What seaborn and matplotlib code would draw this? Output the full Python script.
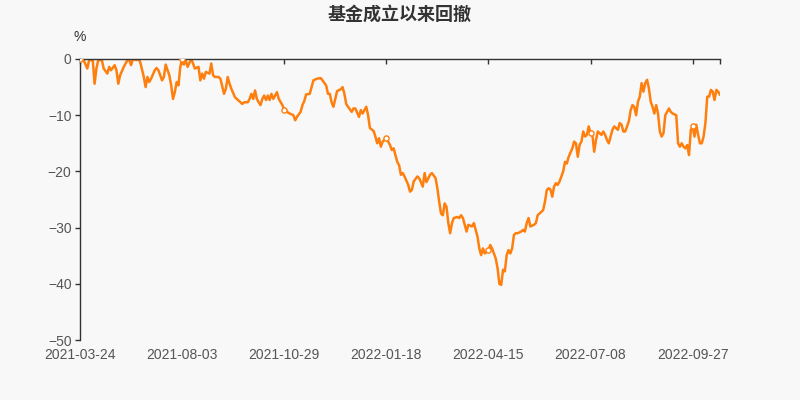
import matplotlib
matplotlib.use("Agg")
import matplotlib.pyplot as plt
import numpy as np
import pandas as pd
import seaborn as sns

# ---- data (trading-day index since inception, drawdown in %) ----
days = [0, 2, 4, 5, 7, 8, 9, 10, 12, 13, 15, 16, 17, 19, 20, 21, 22, 24, 26, 27,
        28, 29, 31, 32, 33, 35, 36, 37, 38, 39, 41, 42, 43, 45, 46, 47, 49, 50, 51, 52,
        53, 54, 55, 56, 57, 58, 59, 61, 62, 63, 65, 66, 67, 68, 69, 71, 72, 73, 74, 76,
        77, 79, 80, 81, 82, 83, 85, 86, 88, 89, 90, 92, 93, 94, 95, 96, 97, 98, 99, 100,
        101, 102, 103, 104, 105, 106, 107, 108, 109, 111, 112, 113, 115, 117, 118, 119, 121, 122, 123, 124,
        126, 127, 128, 130, 132, 133, 135, 136, 137, 138, 139, 140, 141, 143, 144, 145, 146, 147, 149, 150,
        151, 153, 154, 155, 157, 158, 159, 161, 162, 163, 164, 165, 166, 168, 170, 171, 172, 173, 174, 175,
        176, 177, 178, 180, 181, 182, 183, 185, 186, 188, 189, 190, 192, 193, 195, 196, 197, 198, 199, 200,
        201, 202, 203, 204, 205, 207, 208, 209, 210, 211, 212, 213, 215, 216, 217, 218, 219, 220, 221, 222,
        223, 224, 225, 226, 228, 229, 230, 231, 232, 233, 234, 235, 236, 237, 238, 239, 240, 242, 243, 244,
        245, 246, 247, 249, 250, 251, 253, 254, 255, 256, 257, 258, 259, 260, 261, 262, 263, 265, 266, 267,
        268, 270, 271, 272, 273, 274, 275, 276, 277, 278, 279, 280, 281, 282, 283, 284, 286, 287, 288, 289,
        290, 292, 293, 295, 296, 297, 298, 299, 301, 302, 303, 304, 305, 306, 307, 308, 309, 310, 311, 312,
        313, 314, 315, 316, 317, 318, 319, 320, 321, 323, 324, 325, 327, 328, 329, 330, 331, 332, 333, 334,
        335, 336, 337, 338, 339, 340, 341, 342, 343, 344, 345, 346, 347, 348, 349, 350, 351]

drawdown = [0.0, -0.2, -1.7, -0.2, -0.2, -4.4, -1.7, -0.2, -0.2, -1.7, -2.6, -1.4, -2.0, -1.1, -2.0, -4.4, -2.9, -1.4, -0.2, -0.2,
            -1.1, 0.0, -0.2, 0.0, -0.5, -3.2, -5.0, -3.2, -4.1, -3.5, -2.0, -1.6, -2.0, -3.8, -3.2, -1.0, -2.9, -4.7, -7.1, -5.9,
            -4.1, -4.7, -1.4, 0.0, -1.0, -0.2, -1.4, 0.0, -0.8, -1.7, -1.4, -3.8, -2.6, -3.5, -2.3, -2.6, -0.8, -2.9, -3.2, -3.2,
            -3.5, -6.2, -5.3, -3.2, -4.4, -5.3, -6.8, -7.1, -7.7, -8.0, -7.7, -7.7, -7.1, -6.2, -7.1, -5.6, -7.1, -7.7, -8.2, -7.1,
            -6.5, -7.3, -6.5, -7.3, -6.2, -7.1, -6.5, -5.9, -7.1, -8.2, -9.0, -9.3, -9.7, -10.0, -10.9, -10.3, -9.4, -8.2, -7.5, -6.3,
            -6.2, -5.0, -3.8, -3.5, -3.4, -3.8, -4.7, -6.2, -6.2, -7.7, -8.5, -7.1, -5.7, -5.4, -5.0, -6.2, -8.0, -8.5, -9.4, -8.8,
            -8.8, -10.3, -9.1, -9.7, -8.5, -10.0, -12.3, -12.8, -13.8, -15.0, -14.1, -15.6, -14.7, -14.1, -15.3, -16.2, -15.9, -17.1, -18.3, -18.9,
            -20.6, -20.3, -20.9, -22.4, -23.6, -23.3, -21.8, -20.9, -21.2, -22.7, -20.3, -21.9, -20.6, -20.3, -21.2, -23.0, -25.4, -27.5, -27.8, -25.7,
            -26.3, -29.2, -31.0, -29.2, -28.3, -28.1, -28.3, -27.8, -28.3, -29.5, -30.7, -29.5, -29.8, -29.2, -30.4, -31.6, -33.7, -34.9, -33.7, -34.6,
            -34.3, -34.0, -33.1, -33.7, -35.5, -37.2, -40.0, -40.2, -37.5, -37.8, -34.9, -34.0, -34.6, -33.7, -31.3, -31.0, -31.0, -30.7, -30.4, -30.7,
            -29.2, -28.3, -29.8, -29.5, -29.2, -27.8, -27.2, -26.9, -25.4, -23.3, -23.0, -23.2, -24.5, -22.7, -22.1, -22.4, -21.8, -20.0, -18.3, -18.6,
            -17.4, -15.9, -14.7, -15.0, -17.4, -15.3, -14.7, -12.9, -13.8, -13.5, -12.0, -13.1, -13.5, -16.5, -14.4, -12.9, -13.5, -12.9, -13.5, -14.4,
            -15.0, -12.6, -12.0, -12.6, -11.4, -11.7, -12.9, -12.9, -11.1, -9.1, -8.2, -8.5, -10.0, -7.6, -6.7, -4.3, -5.8, -4.3, -3.7, -5.2,
            -7.6, -8.5, -9.7, -8.2, -9.7, -12.9, -13.8, -13.2, -10.0, -8.8, -9.4, -9.7, -10.0, -15.0, -15.6, -15.0, -15.6, -15.9, -15.3, -17.1,
            -12.6, -12.0, -13.8, -11.7, -13.5, -15.0, -15.0, -13.8, -11.4, -6.7, -6.7, -5.5, -5.8, -7.3, -5.5, -5.8, -6.4]

label_idx = [0, 56, 112, 168, 224, 280, 336]
date_labels = ["2021-03-24", "2021-08-03", "2021-10-29", "2022-01-18",
               "2022-04-15", "2022-07-08", "2022-09-27"]
y_ticks = [0, -10, -20, -30, -40, -50]
title = "基金成立以来回撤"
unit = "%"

# ---- style ----
sns.set_style("white")
plt.rcParams["font.family"] = ["Liberation Sans", "Noto Sans CJK SC", "DejaVu Sans"]
plt.rcParams["axes.unicode_minus"] = True

bg = "#f8f8f8"
line_c = "#ff7f0e"
axis_c = "#333333"
label_c = "#555555"

fig = plt.figure(figsize=(8, 4), dpi=100, facecolor=bg)
ax = fig.add_axes([0.1, 0.15, 0.8, 0.7025])
ax.set_facecolor(bg)

df = pd.DataFrame({"day": days, "drawdown": drawdown})
sns.lineplot(data=df, x="day", y="drawdown", color=line_c, linewidth=1.8, ax=ax)

mk = df[df["day"].isin(label_idx)]
sns.scatterplot(data=mk, x="day", y="drawdown", s=14, color="white",
                edgecolor=line_c, linewidth=1.0, zorder=5, ax=ax)

last_day = days[-1]
ax.set_xlim(0, last_day)
ax.set_ylim(min(y_ticks), max(y_ticks))
ax.set_xticks(label_idx + [last_day])
ax.set_xticklabels(date_labels + [""])
ax.set_yticks(y_ticks)
ax.set_xlabel("")
ax.set_ylabel("")

ax.tick_params(axis="x", top=True, bottom=False, labeltop=False, labelbottom=True,
               direction="in", length=3.6, width=1, color=axis_c,
               labelsize=10, labelcolor=label_c, pad=5.5)
ax.tick_params(axis="y", left=True, direction="out", length=3.6, width=1,
               color=axis_c, labelsize=10, labelcolor=label_c, pad=2.5)

for s in ["right", "bottom"]:
    ax.spines[s].set_visible(False)
for s in ["top", "left"]:
    ax.spines[s].set_visible(True)
    ax.spines[s].set_color(axis_c)
    ax.spines[s].set_linewidth(1)

fig.text(0.5, 1 - 14 / 400, title, ha="center", va="center", fontsize=13,
         fontweight="bold", color=axis_c, family=["Noto Sans CJK SC", "DejaVu Sans"])
fig.text(0.1, 1 - 37 / 400, unit, ha="center", va="center", fontsize=10, color=axis_c)

fig.savefig("out.png", dpi=100, facecolor=bg)
